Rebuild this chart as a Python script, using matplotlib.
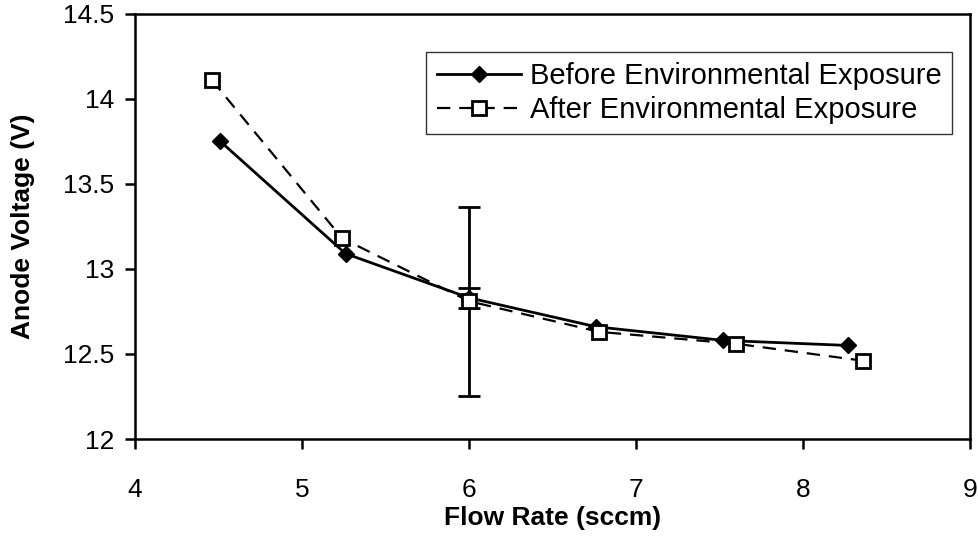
#import used libraries
import numpy as np
from matplotlib import pyplot as plt

plt.rcParams['font.family'] = ['Liberation Sans', 'DejaVu Sans']

#data
flow_before = [4.51, 5.26, 6.0, 6.76, 7.52, 8.27]
volt_before = [13.75, 13.09, 12.83, 12.66, 12.58, 12.55]

flow_after = [4.46, 5.24, 6.0, 6.78, 7.60, 8.36]
volt_after = [14.11, 13.18, 12.81, 12.63, 12.56, 12.46]

#error bars only shown at 6 sccm
err_x = 6.0
err_before = 0.06
err_after = 0.555

x_ticks = [4, 5, 6, 7, 8, 9]
y_ticks = [12, 12.5, 13, 13.5, 14, 14.5]
y_ticklabels = ['12', '12.5', '13', '13.5', '14', '14.5']

#make picture and layout
fig = plt.figure(figsize=(9.79, 5.41), dpi=100)
ax = fig.add_axes([0.138, 0.1885, 0.853, 0.786])

#error bars
ax.errorbar([err_x], [volt_before[2]], yerr=[err_before], fmt='none', ecolor='black',
            elinewidth=2, capsize=8, capthick=2, zorder=2)
ax.errorbar([err_x], [volt_after[2]], yerr=[err_after], fmt='none', ecolor='black',
            elinewidth=2, capsize=8, capthick=2, zorder=2)

#plot before exposure
ax.plot(flow_before, volt_before, '-D', color='black', lw=2, markersize=8,
        label='Before Environmental Exposure', zorder=3)
#plot after exposure
ax.plot(flow_after, volt_after, '--s', color='black', lw=1.6, dashes=(6, 4),
        markersize=10, markerfacecolor='white', markeredgewidth=2,
        label='After Environmental Exposure', zorder=4)

#Customize layout
ax.set_xlim(4, 9)
ax.set_ylim(12, 14.5)
ax.set_xticks(x_ticks)
ax.set_yticks(y_ticks)
ax.set_yticklabels(y_ticklabels)
ax.tick_params(direction='out', length=7, width=1.8, labelsize=19, pad=8)
ax.tick_params(axis='x', pad=21)
for s in ax.spines.values():
    s.set_linewidth(1.8)
ax.set_xlabel('Flow Rate (sccm)', fontsize=19, fontweight='bold', labelpad=3)
ax.set_ylabel('Anode Voltage (V)', fontsize=19, fontweight='bold', labelpad=20)

leg = ax.legend(loc='upper right', bbox_to_anchor=(0.978, 0.91), fontsize=21,
                frameon=True, fancybox=False, borderaxespad=0, handlelength=2.9,
                handletextpad=0.3, labelspacing=0.2, borderpad=0.35)
leg.get_frame().set_edgecolor('black')
leg.get_frame().set_linewidth(1.0)

#save figure
plt.savefig('out.png', dpi=100)
plt.close()
